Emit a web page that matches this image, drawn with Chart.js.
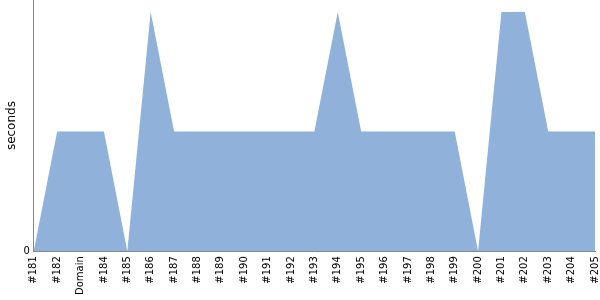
<!DOCTYPE html>
<html><head><meta charset="utf-8">
<script src="https://cdn.jsdelivr.net/npm/chart.js@4/dist/chart.umd.min.js"></script>
<style>html,body{margin:0;padding:0;background:#fff}#w{width:600px;height:300px}</style>
</head><body><div id="w"><canvas id="c"></canvas></div>
<script>
const categories = ["#181","#182","Domain","#184","#185","#186","#187","#188","#189","#190","#191","#192","#193","#194","#195","#196","#197","#198","#199","#200","#201","#202","#203","#204","#205"];
const seconds = [0,1,1,1,0,2,1,1,1,1,1,1,1,2,1,1,1,1,1,0,2,2,1,1,1];
const yTickValues = [0];
Chart.defaults.font.family = "'DejaVu Sans', sans-serif";
Chart.defaults.color = "#000";
new Chart(document.getElementById('c'), {
  type: 'line',
  data: { labels: categories, datasets: [{
    data: seconds, fill: 'origin', backgroundColor: '#8fb1da', borderColor: '#8fb1da',
    borderWidth: 0, pointRadius: 0, tension: 0 }] },
  options: {
    responsive: true, maintainAspectRatio: false, animation: false,
    layout: { padding: { top: 0, right: 5, left: 5, bottom: 0 } },
    plugins: { legend: { display: false }, tooltip: { enabled: false } },
    scales: {
      x: { offset: false, grid: { display: false, drawTicks: false },
        border: { color: '#888' },
        afterFit: s => { s.paddingLeft = 0; s.paddingRight = 0; },
        ticks: { minRotation: 90, maxRotation: 90, autoSkip: false, padding: 5, font: { size: 10 } } },
      y: { min: 0, max: 2.1, grid: { display: false, drawTicks: false },
        border: { color: '#888' },
        afterFit: s => { s.paddingTop = 0; s.paddingBottom = 0; },
        afterBuildTicks: ax => { ax.ticks = yTickValues.map(v => ({ value: v })); },
        ticks: { padding: 4, font: { size: 10 } },
        title: { display: true, text: 'seconds', font: { size: 12 }, padding: 0 } }
    }
  }
});
</script></body></html>
